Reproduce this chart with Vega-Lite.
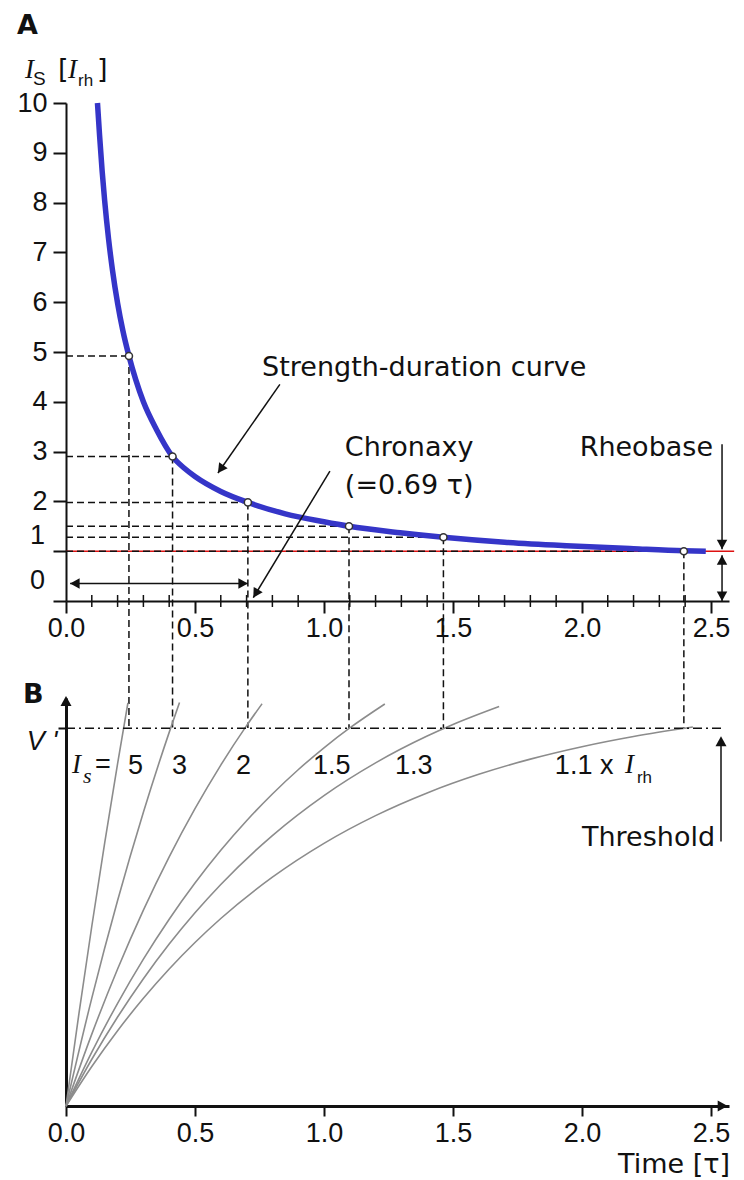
{
  "$schema": "https://vega.github.io/schema/vega-lite/v6.json",
  "background": "white",
  "padding": {"left": 16, "top": 11, "right": 4, "bottom": 4},
  "bounds": "flush",
  "spacing": 97,
  "config": {
    "view": {"stroke": null},
    "font": "DejaVu Sans",
    "axis": {"grid": false, "domainColor": "#111", "tickColor": "#111", "labelColor": "#111", "labelFont": "Liberation Sans", "labelFontSize": 27, "labelFlush": false, "labelOverlap": false}
  },
  "datasets": {
    "curveA": [
      {"t": 0.122, "v": 10.0}, {"t": 0.13, "v": 9.36}, {"t": 0.14, "v": 8.64}, {"t": 0.15, "v": 8.03},
      {"t": 0.165, "v": 7.27}, {"t": 0.18, "v": 6.65}, {"t": 0.2, "v": 5.98}, {"t": 0.22, "v": 5.44},
      {"t": 0.244, "v": 4.92}, {"t": 0.27, "v": 4.45}, {"t": 0.3, "v": 4.0}, {"t": 0.35, "v": 3.45},
      {"t": 0.413, "v": 2.9}, {"t": 0.46, "v": 2.66}, {"t": 0.5, "v": 2.5}, {"t": 0.6, "v": 2.2},
      {"t": 0.705, "v": 1.98}, {"t": 0.85, "v": 1.75}, {"t": 1.0, "v": 1.59}, {"t": 1.097, "v": 1.5},
      {"t": 1.295, "v": 1.37}, {"t": 1.463, "v": 1.28}, {"t": 1.7, "v": 1.18}, {"t": 1.94, "v": 1.11},
      {"t": 2.2, "v": 1.05}, {"t": 2.395, "v": 1.01}, {"t": 2.48, "v": 1.0}
    ],
    "pts": [
      {"is": "5", "t": 0.244, "v": 4.92, "t0": 0, "vb": -2.55},
      {"is": "3", "t": 0.413, "v": 2.9, "t0": 0, "vb": -2.55},
      {"is": "2", "t": 0.705, "v": 1.98, "t0": 0, "vb": -2.55},
      {"is": "1.5", "t": 1.097, "v": 1.5, "t0": 0, "vb": -2.55},
      {"is": "1.3", "t": 1.463, "v": 1.28, "t0": 0, "vb": -2.55},
      {"is": "1.1", "t": 2.395, "v": 1.0, "t0": 0, "vb": -2.55}
    ],
    "minor": [
      {"t": 0.1, "v": -0.12, "v2": 0.12}, {"t": 0.2, "v": -0.12, "v2": 0.12}, {"t": 0.3, "v": -0.12, "v2": 0.12},
      {"t": 0.4, "v": -0.12, "v2": 0.12}, {"t": 0.6, "v": -0.12, "v2": 0.12}, {"t": 0.7, "v": -0.12, "v2": 0.12},
      {"t": 0.8, "v": -0.12, "v2": 0.12}, {"t": 0.9, "v": -0.12, "v2": 0.12}, {"t": 1.1, "v": -0.12, "v2": 0.12},
      {"t": 1.2, "v": -0.12, "v2": 0.12}, {"t": 1.3, "v": -0.12, "v2": 0.12}, {"t": 1.4, "v": -0.12, "v2": 0.12},
      {"t": 1.6, "v": -0.12, "v2": 0.12}, {"t": 1.7, "v": -0.12, "v2": 0.12}, {"t": 1.8, "v": -0.12, "v2": 0.12},
      {"t": 1.9, "v": -0.12, "v2": 0.12}, {"t": 2.1, "v": -0.12, "v2": 0.12}, {"t": 2.2, "v": -0.12, "v2": 0.12},
      {"t": 2.3, "v": -0.12, "v2": 0.12}, {"t": 2.4, "v": -0.12, "v2": 0.12}
    ],
    "rheobase": [{"t": 0, "t2": 2.59, "v": 1}],
    "arrowsA": [
      {"name": "sd", "t": 0.829, "v": 4.35, "t2": 0.589, "v2": 2.57},
      {"name": "chronaxy", "t": 1.023, "v": 2.61, "t2": 0.726, "v2": 0.066},
      {"name": "duration", "t": 0.016, "v": 0.35, "t2": 0.705, "v2": 0.35},
      {"name": "rheobase", "t": 2.543, "v": 3.15, "t2": 2.543, "v2": 1.04},
      {"name": "rheobase2", "t": 2.543, "v": 0.92, "t2": 2.543, "v2": 0.0}
    ],
    "headsA": [
      {"t": 0.589, "v": 2.57, "dir": "sd"},
      {"t": 0.726, "v": 0.066, "dir": "ch"},
      {"t": 0.016, "v": 0.35, "dir": "left"},
      {"t": 0.705, "v": 0.35, "dir": "right"},
      {"t": 2.543, "v": 1.04, "dir": "down"},
      {"t": 2.543, "v": 0.92, "dir": "up"},
      {"t": 2.543, "v": 0.0, "dir": "down"}
    ],
    "textA": [
      {"t": -0.19, "v": 11.39, "text": "A", "kind": "bold"},
      {"t": -0.159, "v": 10.5, "text": "I", "kind": "ital"},
      {"t": -0.128, "v": 10.37, "text": "S", "kind": "sub"},
      {"t": -0.031, "v": 10.5, "text": "[", "kind": "word"},
      {"t": 0.008, "v": 10.5, "text": "I", "kind": "ital"},
      {"t": 0.047, "v": 10.35, "text": "rh", "kind": "subsmall"},
      {"t": 0.12, "v": 10.5, "text": "]", "kind": "word"},
      {"t": -0.081, "v": 1.145, "text": "1", "kind": "numR"},
      {"t": -0.081, "v": 0.24, "text": "0", "kind": "numR"},
      {"t": 0.76, "v": 4.52, "text": "Strength-duration curve", "kind": "word"},
      {"t": 1.081, "v": 2.91, "text": "Chronaxy", "kind": "word"},
      {"t": 1.081, "v": 2.14, "text": "(=0.69 τ)", "kind": "word"},
      {"t": 2.508, "v": 2.91, "text": "Rheobase", "kind": "wordR"}
    ],
    "curvesB": [
      {"is": "5", "t": 0, "v": 0}, {"is": "5", "t": 0.05, "v": 0.2439}, {"is": "5", "t": 0.1, "v": 0.4758},
      {"is": "5", "t": 0.15, "v": 0.6965}, {"is": "5", "t": 0.2, "v": 0.9063}, {"is": "5", "t": 0.24, "v": 1.067},
      {"is": "3", "t": 0, "v": 0}, {"is": "3", "t": 0.1, "v": 0.2855}, {"is": "3", "t": 0.2, "v": 0.5438},
      {"is": "3", "t": 0.3, "v": 0.7775}, {"is": "3", "t": 0.4, "v": 0.989}, {"is": "3", "t": 0.44, "v": 1.0679},
      {"is": "2", "t": 0, "v": 0}, {"is": "2", "t": 0.1, "v": 0.1903}, {"is": "2", "t": 0.2, "v": 0.3625},
      {"is": "2", "t": 0.3, "v": 0.5184}, {"is": "2", "t": 0.4, "v": 0.6594}, {"is": "2", "t": 0.5, "v": 0.7869},
      {"is": "2", "t": 0.6, "v": 0.9024}, {"is": "2", "t": 0.7, "v": 1.0068}, {"is": "2", "t": 0.76, "v": 1.0647},
      {"is": "1.5", "t": 0, "v": 0}, {"is": "1.5", "t": 0.1, "v": 0.1427}, {"is": "1.5", "t": 0.2, "v": 0.2719},
      {"is": "1.5", "t": 0.3, "v": 0.3888}, {"is": "1.5", "t": 0.4, "v": 0.4945}, {"is": "1.5", "t": 0.5, "v": 0.5902},
      {"is": "1.5", "t": 0.6, "v": 0.6768}, {"is": "1.5", "t": 0.7, "v": 0.7551}, {"is": "1.5", "t": 0.8, "v": 0.826},
      {"is": "1.5", "t": 0.9, "v": 0.8901}, {"is": "1.5", "t": 1.0, "v": 0.9482}, {"is": "1.5", "t": 1.1, "v": 1.0007},
      {"is": "1.5", "t": 1.236, "v": 1.0642},
      {"is": "1.3", "t": 0, "v": 0}, {"is": "1.3", "t": 0.1, "v": 0.1237}, {"is": "1.3", "t": 0.2, "v": 0.2356},
      {"is": "1.3", "t": 0.3, "v": 0.3369}, {"is": "1.3", "t": 0.4, "v": 0.4286}, {"is": "1.3", "t": 0.5, "v": 0.5115},
      {"is": "1.3", "t": 0.6, "v": 0.5865}, {"is": "1.3", "t": 0.8, "v": 0.7159}, {"is": "1.3", "t": 1.0, "v": 0.8218},
      {"is": "1.3", "t": 1.2, "v": 0.9084}, {"is": "1.3", "t": 1.4, "v": 0.9794}, {"is": "1.3", "t": 1.5, "v": 1.0099},
      {"is": "1.3", "t": 1.679, "v": 1.0575},
      {"is": "1.1", "t": 0, "v": 0}, {"is": "1.1", "t": 0.1, "v": 0.1047}, {"is": "1.1", "t": 0.2, "v": 0.1994},
      {"is": "1.1", "t": 0.3, "v": 0.2851}, {"is": "1.1", "t": 0.4, "v": 0.3627}, {"is": "1.1", "t": 0.5, "v": 0.4328},
      {"is": "1.1", "t": 0.6, "v": 0.4963}, {"is": "1.1", "t": 0.8, "v": 0.6057}, {"is": "1.1", "t": 1.0, "v": 0.6953},
      {"is": "1.1", "t": 1.2, "v": 0.7687}, {"is": "1.1", "t": 1.4, "v": 0.8287}, {"is": "1.1", "t": 1.6, "v": 0.8779},
      {"is": "1.1", "t": 1.8, "v": 0.9182}, {"is": "1.1", "t": 2.0, "v": 0.9511}, {"is": "1.1", "t": 2.2, "v": 0.9781},
      {"is": "1.1", "t": 2.43, "v": 1.0032}
    ],
    "threshold": [{"t": 0, "t2": 2.545, "v": 1}],
    "arrowsB": [{"name": "threshold", "t": 2.539, "v": 0.7, "t2": 2.539, "v2": 0.96}],
    "headsB": [
      {"t": 2.539, "v": 0.979, "dir": "up"},
      {"t": 0, "v": 1.085, "dir": "up"},
      {"t": 2.565, "v": 0, "dir": "right"}
    ],
    "textB": [
      {"t": -0.167, "v": 1.066, "text": "B", "kind": "bold"},
      {"t": 0.023, "v": 0.881, "text": "I", "kind": "ital"},
      {"t": 0.066, "v": 0.854, "text": "s", "kind": "subital"},
      {"t": 0.112, "v": 0.881, "text": "=", "kind": "num"},
      {"t": 0.24, "v": 0.878, "text": "5", "kind": "num"},
      {"t": 0.411, "v": 0.878, "text": "3", "kind": "num"},
      {"t": 0.659, "v": 0.878, "text": "2", "kind": "num"},
      {"t": 0.957, "v": 0.878, "text": "1.5", "kind": "num"},
      {"t": 1.275, "v": 0.878, "text": "1.3", "kind": "num"},
      {"t": 1.895, "v": 0.878, "text": "1.1 x", "kind": "num"},
      {"t": 2.167, "v": 0.881, "text": "I", "kind": "ital"},
      {"t": 2.213, "v": 0.854, "text": "rh", "kind": "subsmall"},
      {"t": 2.516, "v": 0.688, "text": "Threshold", "kind": "wordR"},
      {"t": 2.574, "v": -0.177, "text": "Time [τ]", "kind": "wordR"}
    ]
  },
  "vconcat": [
    {
      "width": 663,
      "height": 498,
      "layer": [
        {
          "data": {"name": "curveA"},
          "mark": {"type": "line", "opacity": 0},
          "encoding": {
            "x": {"field": "t", "type": "quantitative", "scale": {"domain": [0, 2.57], "nice": false, "zero": false},
              "axis": {"values": [0, 0.5, 1, 1.5, 2, 2.5], "format": ".1f", "tickSize": 12, "tickWidth": 2, "domainWidth": 2, "labelPadding": 2, "title": null}},
            "y": {"field": "v", "type": "quantitative", "scale": {"domain": [0, 10], "nice": false, "zero": false},
              "axis": {"values": [0, 1, 2, 3, 4, 5, 6, 7, 8, 9, 10], "tickSize": 13, "tickWidth": 2, "domainWidth": 2, "labelPadding": 6, "title": null,
                "labelExpr": "datum.value <= 1 ? '' : datum.label"}}
          }
        },
        {
          "data": {"name": "minor"},
          "mark": {"type": "rule", "stroke": "#111", "strokeWidth": 1.5},
          "encoding": {
            "x": {"field": "t", "type": "quantitative"},
            "y": {"field": "v", "type": "quantitative"},
            "y2": {"field": "v2"}
          }
        },
        {
          "data": {"name": "rheobase"},
          "mark": {"type": "rule", "stroke": "#dd1111", "strokeWidth": 1.6},
          "encoding": {
            "x": {"field": "t", "type": "quantitative"},
            "x2": {"field": "t2"},
            "y": {"field": "v", "type": "quantitative"}
          }
        },
        {
          "data": {"name": "pts"},
          "mark": {"type": "rule", "stroke": "#111", "strokeWidth": 1.5, "strokeDash": [7, 4]},
          "encoding": {
            "x": {"field": "t0", "type": "quantitative"},
            "x2": {"field": "t"},
            "y": {"field": "v", "type": "quantitative"}
          }
        },
        {
          "data": {"name": "pts"},
          "mark": {"type": "rule", "stroke": "#111", "strokeWidth": 1.5, "strokeDash": [7, 4]},
          "encoding": {
            "x": {"field": "t", "type": "quantitative"},
            "y": {"field": "v", "type": "quantitative"},
            "y2": {"field": "vb"}
          }
        },
        {
          "data": {"name": "curveA"},
          "mark": {"type": "line", "stroke": "#3535c8", "strokeWidth": 5.5, "interpolate": "monotone"},
          "encoding": {
            "x": {"field": "t", "type": "quantitative"},
            "y": {"field": "v", "type": "quantitative"}
          }
        },
        {
          "data": {"name": "pts"},
          "mark": {"type": "point", "shape": "circle", "filled": true, "fill": "white", "stroke": "#333", "strokeWidth": 1.5, "size": 50, "opacity": 1},
          "encoding": {
            "x": {"field": "t", "type": "quantitative"},
            "y": {"field": "v", "type": "quantitative"}
          }
        },
        {
          "data": {"name": "arrowsA"},
          "mark": {"type": "rule", "stroke": "#111", "strokeWidth": 1.5},
          "encoding": {
            "x": {"field": "t", "type": "quantitative"},
            "x2": {"field": "t2"},
            "y": {"field": "v", "type": "quantitative"},
            "y2": {"field": "v2"}
          }
        },
        {
          "data": {"name": "headsA"},
          "transform": [{"filter": "datum.dir === 'up'"}],
          "mark": {"type": "point", "shape": "M0,0L-0.55,1L0.55,1Z", "filled": true, "fill": "#111", "strokeWidth": 0, "size": 361, "opacity": 1, "angle": 0},
          "encoding": {"x": {"field": "t", "type": "quantitative"}, "y": {"field": "v", "type": "quantitative"}}
        },
        {
          "data": {"name": "headsA"},
          "transform": [{"filter": "datum.dir === 'down'"}],
          "mark": {"type": "point", "shape": "M0,0L-0.55,1L0.55,1Z", "filled": true, "fill": "#111", "strokeWidth": 0, "size": 361, "opacity": 1, "angle": 180},
          "encoding": {"x": {"field": "t", "type": "quantitative"}, "y": {"field": "v", "type": "quantitative"}}
        },
        {
          "data": {"name": "headsA"},
          "transform": [{"filter": "datum.dir === 'left'"}],
          "mark": {"type": "point", "shape": "M0,0L-0.55,1L0.55,1Z", "filled": true, "fill": "#111", "strokeWidth": 0, "size": 361, "opacity": 1, "angle": 270},
          "encoding": {"x": {"field": "t", "type": "quantitative"}, "y": {"field": "v", "type": "quantitative"}}
        },
        {
          "data": {"name": "headsA"},
          "transform": [{"filter": "datum.dir === 'right'"}],
          "mark": {"type": "point", "shape": "M0,0L-0.55,1L0.55,1Z", "filled": true, "fill": "#111", "strokeWidth": 0, "size": 361, "opacity": 1, "angle": 90},
          "encoding": {"x": {"field": "t", "type": "quantitative"}, "y": {"field": "v", "type": "quantitative"}}
        },
        {
          "data": {"name": "headsA"},
          "transform": [{"filter": "datum.dir === 'sd'"}],
          "mark": {"type": "point", "shape": "M0,0L-0.55,1L0.55,1Z", "filled": true, "fill": "#111", "strokeWidth": 0, "size": 361, "opacity": 1, "angle": 215},
          "encoding": {"x": {"field": "t", "type": "quantitative"}, "y": {"field": "v", "type": "quantitative"}}
        },
        {
          "data": {"name": "headsA"},
          "transform": [{"filter": "datum.dir === 'ch'"}],
          "mark": {"type": "point", "shape": "M0,0L-0.55,1L0.55,1Z", "filled": true, "fill": "#111", "strokeWidth": 0, "size": 361, "opacity": 1, "angle": 211},
          "encoding": {"x": {"field": "t", "type": "quantitative"}, "y": {"field": "v", "type": "quantitative"}}
        },
        {
          "data": {"name": "textA"},
          "transform": [{"filter": "datum.kind === 'word'"}],
          "mark": {"type": "text", "font": "DejaVu Sans", "fontSize": 27, "align": "left", "baseline": "alphabetic", "color": "#111"},
          "encoding": {"x": {"field": "t", "type": "quantitative"}, "y": {"field": "v", "type": "quantitative"}, "text": {"field": "text", "type": "nominal"}}
        },
        {
          "data": {"name": "textA"},
          "transform": [{"filter": "datum.kind === 'wordR'"}],
          "mark": {"type": "text", "font": "DejaVu Sans", "fontSize": 27, "align": "right", "baseline": "alphabetic", "color": "#111"},
          "encoding": {"x": {"field": "t", "type": "quantitative"}, "y": {"field": "v", "type": "quantitative"}, "text": {"field": "text", "type": "nominal"}}
        },
        {
          "data": {"name": "textA"},
          "transform": [{"filter": "datum.kind === 'numR'"}],
          "mark": {"type": "text", "font": "Liberation Sans", "fontSize": 27, "align": "right", "baseline": "alphabetic", "color": "#111"},
          "encoding": {"x": {"field": "t", "type": "quantitative"}, "y": {"field": "v", "type": "quantitative"}, "text": {"field": "text", "type": "nominal"}}
        },
        {
          "data": {"name": "textA"},
          "transform": [{"filter": "datum.kind === 'bold'"}],
          "mark": {"type": "text", "font": "DejaVu Sans", "fontSize": 27, "fontWeight": "bold", "align": "left", "baseline": "alphabetic", "color": "#111"},
          "encoding": {"x": {"field": "t", "type": "quantitative"}, "y": {"field": "v", "type": "quantitative"}, "text": {"field": "text", "type": "nominal"}}
        },
        {
          "data": {"name": "textA"},
          "transform": [{"filter": "datum.kind === 'ital'"}],
          "mark": {"type": "text", "font": "Liberation Serif", "fontSize": 27, "fontStyle": "italic", "align": "left", "baseline": "alphabetic", "color": "#111"},
          "encoding": {"x": {"field": "t", "type": "quantitative"}, "y": {"field": "v", "type": "quantitative"}, "text": {"field": "text", "type": "nominal"}}
        },
        {
          "data": {"name": "textA"},
          "transform": [{"filter": "datum.kind === 'sub'"}],
          "mark": {"type": "text", "font": "Liberation Sans", "fontSize": 19, "align": "left", "baseline": "alphabetic", "color": "#111"},
          "encoding": {"x": {"field": "t", "type": "quantitative"}, "y": {"field": "v", "type": "quantitative"}, "text": {"field": "text", "type": "nominal"}}
        },
        {
          "data": {"name": "textA"},
          "transform": [{"filter": "datum.kind === 'subsmall'"}],
          "mark": {"type": "text", "font": "Liberation Sans", "fontSize": 17, "align": "left", "baseline": "alphabetic", "color": "#111"},
          "encoding": {"x": {"field": "t", "type": "quantitative"}, "y": {"field": "v", "type": "quantitative"}, "text": {"field": "text", "type": "nominal"}}
        }
      ]
    },
    {
      "width": 663,
      "height": 408,
      "layer": [
        {
          "data": {"name": "curvesB"},
          "mark": {"type": "line", "stroke": "#8c8c8c", "strokeWidth": 1.6, "interpolate": "monotone"},
          "encoding": {
            "x": {"field": "t", "type": "quantitative", "scale": {"domain": [0, 2.57], "nice": false, "zero": false},
              "axis": {"values": [0, 0.5, 1, 1.5, 2, 2.5], "format": ".1f", "tickSize": 10, "tickWidth": 2, "domainWidth": 3, "labelPadding": 4, "title": null}},
            "y": {"field": "v", "type": "quantitative", "scale": {"domain": [0, 1.08], "nice": false, "zero": false},
              "axis": {"values": [1], "labelExpr": "\"V '\"", "labelFontStyle": "italic", "labelBaseline": "top", "tickSize": 8, "tickWidth": 2, "domainWidth": 3, "labelPadding": 1, "title": null}},
            "detail": {"field": "is", "type": "nominal"}
          }
        },
        {
          "data": {"name": "threshold"},
          "mark": {"type": "rule", "stroke": "#111", "strokeWidth": 1.5, "strokeDash": [9, 4, 2, 4]},
          "encoding": {
            "x": {"field": "t", "type": "quantitative"},
            "x2": {"field": "t2"},
            "y": {"field": "v", "type": "quantitative"}
          }
        },
        {
          "data": {"name": "arrowsB"},
          "mark": {"type": "rule", "stroke": "#111", "strokeWidth": 1.5},
          "encoding": {
            "x": {"field": "t", "type": "quantitative"},
            "x2": {"field": "t2"},
            "y": {"field": "v", "type": "quantitative"},
            "y2": {"field": "v2"}
          }
        },
        {
          "data": {"name": "headsB"},
          "transform": [{"filter": "datum.dir === 'up'"}],
          "mark": {"type": "point", "shape": "M0,0L-0.55,1L0.55,1Z", "filled": true, "fill": "#111", "strokeWidth": 0, "size": 400, "opacity": 1, "angle": 0},
          "encoding": {"x": {"field": "t", "type": "quantitative"}, "y": {"field": "v", "type": "quantitative"}}
        },
        {
          "data": {"name": "headsB"},
          "transform": [{"filter": "datum.dir === 'right'"}],
          "mark": {"type": "point", "shape": "M0,0L-0.55,1L0.55,1Z", "filled": true, "fill": "#111", "strokeWidth": 0, "size": 400, "opacity": 1, "angle": 90},
          "encoding": {"x": {"field": "t", "type": "quantitative"}, "y": {"field": "v", "type": "quantitative"}}
        },
        {
          "data": {"name": "textB"},
          "transform": [{"filter": "datum.kind === 'num'"}],
          "mark": {"type": "text", "font": "Liberation Sans", "fontSize": 27, "align": "left", "baseline": "alphabetic", "color": "#111"},
          "encoding": {"x": {"field": "t", "type": "quantitative"}, "y": {"field": "v", "type": "quantitative"}, "text": {"field": "text", "type": "nominal"}}
        },
        {
          "data": {"name": "textB"},
          "transform": [{"filter": "datum.kind === 'wordR'"}],
          "mark": {"type": "text", "font": "DejaVu Sans", "fontSize": 27, "align": "right", "baseline": "alphabetic", "color": "#111"},
          "encoding": {"x": {"field": "t", "type": "quantitative"}, "y": {"field": "v", "type": "quantitative"}, "text": {"field": "text", "type": "nominal"}}
        },
        {
          "data": {"name": "textB"},
          "transform": [{"filter": "datum.kind === 'bold'"}],
          "mark": {"type": "text", "font": "DejaVu Sans", "fontSize": 27, "fontWeight": "bold", "align": "left", "baseline": "alphabetic", "color": "#111"},
          "encoding": {"x": {"field": "t", "type": "quantitative"}, "y": {"field": "v", "type": "quantitative"}, "text": {"field": "text", "type": "nominal"}}
        },
        {
          "data": {"name": "textB"},
          "transform": [{"filter": "datum.kind === 'ital'"}],
          "mark": {"type": "text", "font": "Liberation Serif", "fontSize": 27, "fontStyle": "italic", "align": "left", "baseline": "alphabetic", "color": "#111"},
          "encoding": {"x": {"field": "t", "type": "quantitative"}, "y": {"field": "v", "type": "quantitative"}, "text": {"field": "text", "type": "nominal"}}
        },
        {
          "data": {"name": "textB"},
          "transform": [{"filter": "datum.kind === 'subital'"}],
          "mark": {"type": "text", "font": "Liberation Serif", "fontSize": 22, "fontStyle": "italic", "align": "left", "baseline": "alphabetic", "color": "#111"},
          "encoding": {"x": {"field": "t", "type": "quantitative"}, "y": {"field": "v", "type": "quantitative"}, "text": {"field": "text", "type": "nominal"}}
        },
        {
          "data": {"name": "textB"},
          "transform": [{"filter": "datum.kind === 'subsmall'"}],
          "mark": {"type": "text", "font": "Liberation Sans", "fontSize": 17, "align": "left", "baseline": "alphabetic", "color": "#111"},
          "encoding": {"x": {"field": "t", "type": "quantitative"}, "y": {"field": "v", "type": "quantitative"}, "text": {"field": "text", "type": "nominal"}}
        }
      ]
    }
  ]
}
